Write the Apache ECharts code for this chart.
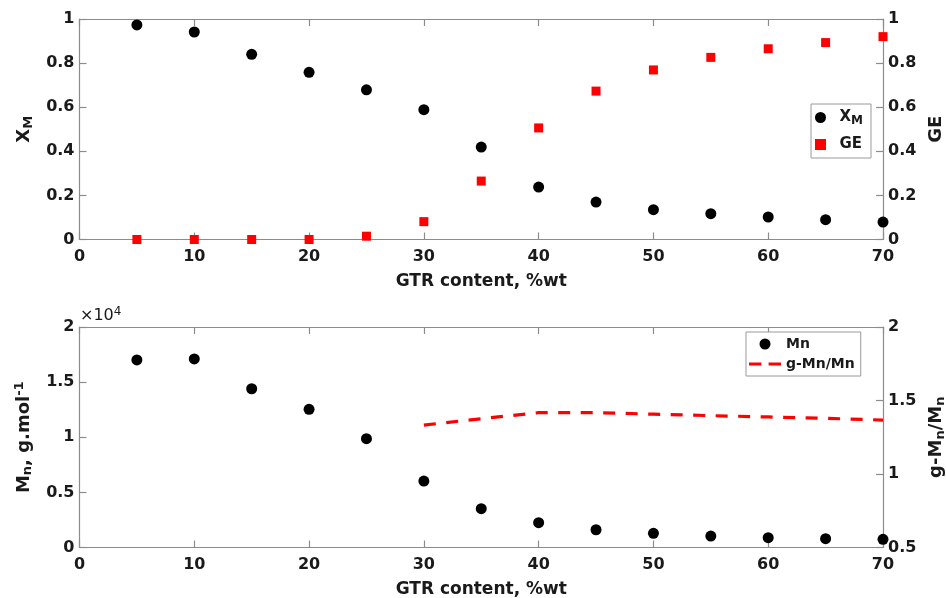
<!DOCTYPE html>
<html>
<head>
<meta charset="utf-8">
<script src="https://cdn.jsdelivr.net/npm/echarts@6/dist/echarts.min.js"></script>
<style>
html,body{margin:0;padding:0;background:#fff;}
#c{width:946px;height:598px;}
</style>
</head>
<body>
<div id="c"></div>
<script>
const gtr = [5,10,15,20,25,30,35,40,45,50,55,60,65,70];
const xm = [0.973,0.941,0.840,0.758,0.679,0.589,0.419,0.238,0.170,0.135,0.117,0.102,0.090,0.079];
const ge = [0,0,0,0,0.015,0.081,0.265,0.506,0.673,0.769,0.826,0.865,0.893,0.920];
const mn = [17010,17100,14400,12530,9870,6030,3520,2250,1610,1290,1040,890,800,740];
const gtrLine = [30,35,40,45,50,55,60,65,70];
const gmnRatio = [1.333,1.376,1.417,1.417,1.407,1.397,1.388,1.379,1.367];

const FONT = 'DejaVu Sans';
const AX = '#8c8c8c';
const TXT = '#1a1a1a';

function xAxisDef(grid, pos, showLabel, name) {
  return {
    type: 'value', gridIndex: grid, position: pos, min: 0, max: 70, interval: 10,
    axisLine: {show: true, onZero: false, lineStyle: {color: AX, width: 1.2}},
    axisTick: {show: true, inside: true, length: 7, lineStyle: {color: AX, width: 1.2}},
    axisLabel: {show: showLabel, margin: 9, color: TXT, fontFamily: FONT, fontWeight: 'bold', fontSize: 16},
    splitLine: {show: false},
    name: name || '', nameLocation: 'middle', nameGap: 34,
    nameTextStyle: {color: TXT, fontFamily: FONT, fontWeight: 'bold', fontSize: 17}
  };
}
const richName = {
  a: {fontFamily: FONT, fontWeight: 'bold', fontSize: 18, color: TXT},
  s: {fontFamily: FONT, fontWeight: 'bold', fontSize: 13, color: TXT, padding: [8,0,0,0]},
  p: {fontFamily: FONT, fontWeight: 'bold', fontSize: 13, color: TXT, padding: [0,0,8,0]}
};
function yAxisDef(grid, pos, min, max, interval, name, gap, fmt) {
  return {
    type: 'value', gridIndex: grid, position: pos, min: min, max: max, interval: interval,
    axisLine: {show: true, onZero: false, lineStyle: {color: AX, width: 1.2}},
    axisTick: {show: true, inside: true, length: 7, lineStyle: {color: AX, width: 1.2}},
    axisLabel: {show: true, margin: 5, color: TXT, fontFamily: FONT, fontWeight: 'bold', fontSize: 16, formatter: fmt},
    splitLine: {show: false},
    name: name, nameLocation: 'middle', nameGap: gap, nameRotate: 90,
    nameTextStyle: {rich: richName, color: TXT, fontFamily: FONT, fontWeight: 'bold', fontSize: 18}
  };
}

const chart = echarts.init(document.getElementById('c'), null, {renderer: 'canvas'});
const option = {
  animation: false,
  backgroundColor: '#fff',
  grid: [
    {left: 79.5, right: 63, top: 19, height: 220.5, outerBoundsMode: 'none', containLabel: false},
    {left: 79.5, right: 63, top: 327, height: 220.5, outerBoundsMode: 'none', containLabel: false}
  ],
  xAxis: [
    xAxisDef(0, 'bottom', true, 'GTR content, %wt'),
    xAxisDef(0, 'top', false),
    xAxisDef(1, 'bottom', true, 'GTR content, %wt'),
    xAxisDef(1, 'top', false)
  ],
  yAxis: [
    yAxisDef(0, 'left', 0, 1, 0.2, '{a|X}{s|M}', 40),
    yAxisDef(0, 'right', 0, 1, 0.2, '{a|GE}', 40),
    yAxisDef(1, 'left', 0, 20000, 5000, '{a|M}{s|n}{a|, g.mol}{p|-1}', 45, v => String(v / 10000)),
    yAxisDef(1, 'right', 0.5, 2, 0.5, '{a|g-M}{s|n}{a|/M}{s|n}', 39)
  ],
  legend: [
    {
      data: ['XM', {name: 'GE', icon: 'path://M0,0L10,0L10,10L0,10Z'}],
      orient: 'vertical', left: 811, top: 104,
      padding: [6, 8, 6, 4], itemGap: 10, itemWidth: 28, itemHeight: 11,
      symbolKeepAspect: true,
      borderColor: '#9a9a9a', borderWidth: 1, backgroundColor: '#fff', borderRadius: 0,
      textStyle: {
        color: TXT, fontFamily: FONT, fontWeight: 'bold', fontSize: 14,
        rich: {
          a: {fontFamily: FONT, fontWeight: 'bold', fontSize: 15, color: TXT},
          s: {fontFamily: FONT, fontWeight: 'bold', fontSize: 12, color: TXT, padding: [7,0,0,0]}
        }
      },
      formatter: n => n === 'XM' ? '{a|X}{s|M}' : '{a|GE}'
    },
    {
      data: ['Mn', {name: 'g-Mn/Mn', icon: 'path://M0,0h12v3h-12z M19,0h12v3h-12z'}],
      orient: 'vertical', left: 746, top: 332,
      padding: [5, 6, 5, 3], itemGap: 6, itemWidth: 32, itemHeight: 11,
      symbolKeepAspect: true,
      borderColor: '#9a9a9a', borderWidth: 1, backgroundColor: '#fff', borderRadius: 0,
      textStyle: {color: TXT, fontFamily: FONT, fontWeight: 'bold', fontSize: 14}
    }
  ],
  graphic: [
    {
      type: 'text', left: 80, top: 306,
      style: {
        text: '{m|×10}{e|4}',
        rich: {
          m: {fontFamily: FONT, fontSize: 16, fill: TXT},
          e: {fontFamily: FONT, fontSize: 12, fill: TXT, padding: [0,0,8,0]}
        }
      }
    }
  ],
  series: [
    {
      name: 'XM', type: 'scatter', xAxisIndex: 0, yAxisIndex: 0, clip: false,
      symbol: 'circle', symbolSize: 11, itemStyle: {color: '#000', opacity: 1},
      data: gtr.map((x, i) => [x, xm[i]]), z: 3
    },
    {
      name: 'GE', type: 'scatter', xAxisIndex: 0, yAxisIndex: 1, clip: false,
      symbol: 'rect', symbolSize: 9, itemStyle: {color: '#ff0000', opacity: 1},
      data: gtr.map((x, i) => [x, ge[i]]), z: 3
    },
    {
      name: 'Mn', type: 'scatter', xAxisIndex: 2, yAxisIndex: 2, clip: false,
      symbol: 'circle', symbolSize: 11, itemStyle: {color: '#000', opacity: 1},
      data: gtr.map((x, i) => [x, mn[i]]), z: 3
    },
    {
      name: 'g-Mn/Mn', type: 'line', xAxisIndex: 2, yAxisIndex: 3, clip: false,
      symbol: 'none', showSymbol: false, smooth: false,
      lineStyle: {color: '#ff0000', width: 3.2, type: [12, 10.5]},
      itemStyle: {color: '#ff0000'},
      data: gtrLine.map((x, i) => [x, gmnRatio[i]]), z: 3
    }
  ]
};
chart.setOption(option);
</script>
</body>
</html>
